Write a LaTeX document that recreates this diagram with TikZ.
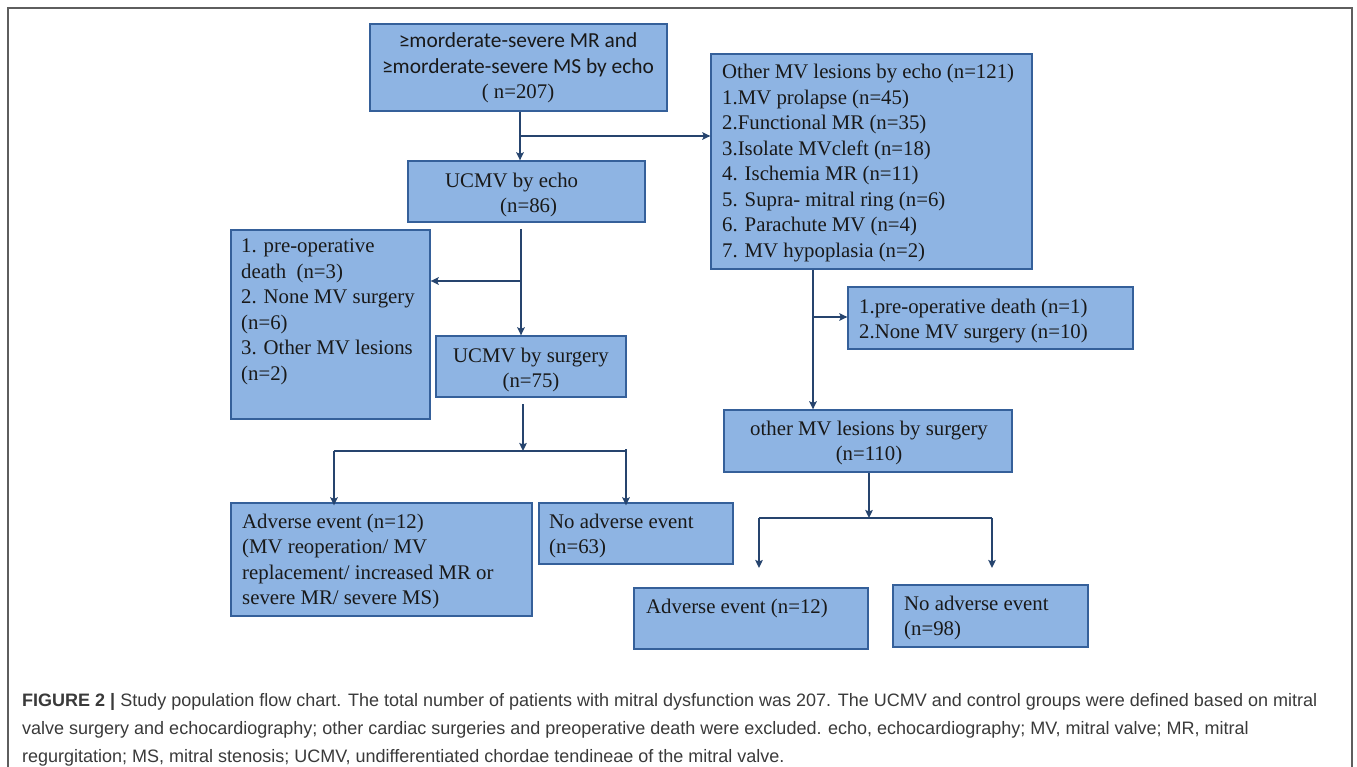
\documentclass[tikz,border=0pt]{standalone}
\usepackage{fontspec}
\setmainfont{Liberation Serif}
\newfontfamily\capfont{Liberation Sans}
\newfontfamily\calfont{Carlito}
\usetikzlibrary{arrows.meta,fit}
\definecolor{boxfill}{HTML}{8EB4E3}
\definecolor{boxline}{HTML}{35609A}
\definecolor{conncol}{HTML}{26446E}
\definecolor{framecol}{HTML}{5E5E5E}
\definecolor{captxt}{HTML}{3A3A3A}
\newcommand\LL[1]{\vtop{\halign{##\hfil\cr#1\crcr}}}
\newcommand\CC[1]{\vtop{\halign{\hfil##\hfil\cr#1\crcr}}}
\newcommand\calsz{\calfont\fontsize{21.4}{25.5}\selectfont}
\tikzset{
  box/.style={draw=boxline, fill=boxfill, line width=1.3pt, inner sep=0pt},
  txt/.style={inner sep=0pt, text=black!90, font=\fontsize{20.8}{25.5}\selectfont},
  captext/.style={inner sep=0pt, text=captxt, font=\capfont\fontsize{18}{22}\selectfont},
  connline/.style={draw=conncol, line width=2.6pt},
  arr/.style={connline, -{Stealth[length=8pt,width=7.5pt,inset=1.5pt]}}
}
\begin{document}
\begin{tikzpicture}[x=1pt,y=-1pt]
\useasboundingbox (0,0) rectangle (1357,767);
\fill[white] (0,0) rectangle (1357,767);
% frame
\draw[framecol, line width=2pt] (8,775) -- (8,8) -- (1352,8) -- (1352,775);

% boxes
\node[box, fit={(370,24) (667,111)}] (b1) {};
\node[box, fit={(408,161) (645,222)}] (b2) {};
\node[box, fit={(711,54) (1032,269)}] (oth) {};
\node[box, fit={(231,230) (430,419)}] (exl) {};
\node[box, fit={(436,336) (626,397)}] (surg) {};
\node[box, fit={(231,503) (532,616)}] (advl) {};
\node[box, fit={(539,503) (733,564)}] (nol) {};
\node[box, fit={(848,287) (1133,349)}] (exr) {};
\node[box, fit={(724,410) (1012,472)}] (oths) {};
\node[box, fit={(634,588) (868,649)}] (advr) {};
\node[box, fit={(893,585) (1088,647)}] (nor) {};

% texts
\node[txt, anchor=base] (t1) at (518,48) {\CC{{\calsz ≥morderate-severe MR and}\cr{\calsz ≥morderate-severe MS by echo}\cr ( n=207)}};
\node[txt, anchor=base west] (t2a) at (445,188) {UCMV by echo};
\node[txt, anchor=base west] (t2b) at (500,213) {(n=86)};
\node[txt, anchor=base west] (t3) at (722,79) {\LL{Other MV lesions by echo (n=121)\cr 1.MV prolapse (n=45)\cr 2.Functional MR (n=35)\cr 3.Isolate MVcleft (n=18)\cr 4. Ischemia MR (n=11)\cr 5. Supra- mitral ring (n=6)\cr 6. Parachute MV (n=4)\cr 7. MV hypoplasia (n=2)}};
\node[txt, anchor=base west] (t4) at (241,253) {\LL{1. pre-operative\cr death\ \ (n=3)\cr 2. None MV surgery\cr (n=6)\cr 3. Other MV lesions\cr (n=2)}};
\node[txt, anchor=base] (t5) at (531,362) {\CC{UCMV by surgery\cr (n=75)}};
\node[txt, anchor=base west] (t6) at (242,528) {\LL{Adverse event (n=12)\cr (MV reoperation/ MV\cr replacement/ increased MR or\cr severe MR/ severe MS)}};
\node[txt, anchor=base west] (t7) at (549,528) {\LL{No adverse event\cr (n=63)}};
\node[txt, anchor=base west] (t8) at (859,313) {\LL{1.pre-operative death (n=1)\cr 2.None MV surgery (n=10)}};
\node[txt, anchor=base] (t9) at (869,435) {\CC{other MV lesions by surgery\cr (n=110)}};
\node[txt, anchor=base west] (t10) at (646,613) {Adverse event (n=12)};
\node[txt, anchor=base west] (t11) at (904,610) {\LL{No adverse event\cr (n=98)}};

% connectors
\coordinate (j1) at (520,136);
\draw[arr] (b1.south -| j1) -- (b2.north -| j1);
\draw[arr] (j1) -- (oth.west |- j1);

\coordinate (s2) at (521,229);
\coordinate (j2) at (521,281);
\draw[arr] (s2) -- (s2 |- surg.north);
\draw[arr] (j2) -- (exl.east |- j2);

\coordinate (s3) at (523,404);
\coordinate (m3) at (523,451);
\coordinate (h3l) at (334,451);
\coordinate (h3r) at (626,451);
\draw[arr] (s3) -- (m3);
\draw[connline] (h3l) -- (h3r);
\draw[arr] (h3l) -- ([yshift=-3pt]h3l |- advl.north);
\draw[arr] ([yshift=2pt]h3r) -- ([yshift=-3pt]h3r |- nol.north);

\coordinate (j4) at (813,317);
\draw[arr] (oth.south -| j4) -- (oths.north -| j4);
\draw[arr] (j4) -- (exr.west |- j4);

\coordinate (m5) at (869,518);
\coordinate (h5l) at (759,518);
\coordinate (h5r) at (992,518);
\coordinate (e5l) at (759,568);
\coordinate (e5r) at (992,568);
\draw[arr] (oths.south -| m5) -- (m5);
\draw[connline] (h5l) -- (h5r);
\draw[arr] (h5l) -- (e5l);
\draw[arr] (h5r) -- (e5r);

% caption
\node[captext, anchor=base west] (c1) at (22,706) {{\bfseries FIGURE 2 |} Study population flow chart. The total number of patients with mitral dysfunction was 207. The UCMV and control groups were defined based on mitral};
\node[captext, anchor=base west] (c2) at (22,734) {valve surgery and echocardiography; other cardiac surgeries and preoperative death were excluded. echo, echocardiography; MV, mitral valve; MR, mitral};
\node[captext, anchor=base west] (c3) at (22,762) {regurgitation; MS, mitral stenosis; UCMV, undifferentiated chordae tendineae of the mitral valve.};
\end{tikzpicture}
\end{document}
